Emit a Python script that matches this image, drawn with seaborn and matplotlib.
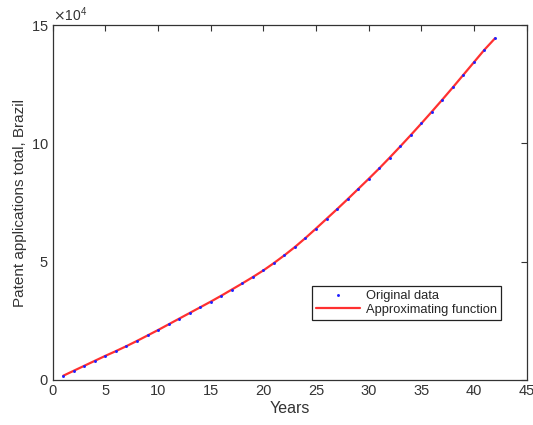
import matplotlib
matplotlib.use('Agg')
import matplotlib.pyplot as plt
import matplotlib.ticker as mticker
import seaborn as sns
import pandas as pd

# years since start and patent applications
years = list(range(1, 43))
patents = [1800, 3900, 6000, 8100, 10200, 12200, 14300, 16500, 18800, 21100,
           23500, 25900, 28300, 30700, 33100, 35600, 38200, 40800, 43500, 46300,
           49400, 52700, 56200, 60000, 64000, 68100, 72200, 76400, 80700, 85000,
           89400, 94000, 98700, 103500, 108400, 113400, 118500, 123700, 129000,
           134300, 139600, 144400]

x_ticks = [0, 5, 10, 15, 20, 25, 30, 35, 40, 45]
y_ticks = [0, 50000, 100000, 150000]

df = pd.DataFrame({'Years': years, 'Patents': patents})

sns.set_style('white')
plt.rcParams['font.family'] = ['Liberation Sans', 'DejaVu Sans']

fig = plt.figure(figsize=(5.33, 4.25), dpi=100)
ax = fig.add_axes([0.099, 0.106, 0.889, 0.835])

sns.lineplot(data=df, x='Years', y='Patents', ax=ax, color='#ff3030', linewidth=1.6,
             label='Approximating function', zorder=2)
sns.scatterplot(data=df, x='Years', y='Patents', ax=ax, color='#2020ff', marker='.',
                s=18, linewidth=0, label='Original data', zorder=3)

ax.set_xlim(0, 45)
ax.set_ylim(0, 150000)
ax.set_xticks(x_ticks)
ax.set_yticks(y_ticks)

fmt = mticker.ScalarFormatter(useMathText=True)
fmt.set_powerlimits((4, 4))
ax.yaxis.set_major_formatter(fmt)
ax.yaxis.get_offset_text().set_fontsize(10)
ax.yaxis.get_offset_text().set_color('#333333')

ax.tick_params(direction='in', top=True, right=True, length=4.5, width=0.8,
               labelsize=10.5, colors='#333333', pad=3)
for s in ax.spines.values():
    s.set_visible(True)
    s.set_color('#333333')
    s.set_linewidth(0.9)

ax.set_xlabel('Years', fontsize=11.5, color='#333333', labelpad=2)
ax.set_ylabel('Patent applications total, Brazil', fontsize=11, color='#333333', labelpad=3)

handles, labels = ax.get_legend_handles_labels()
order = [labels.index('Original data'), labels.index('Approximating function')]
leg = ax.legend([handles[i] for i in order], [labels[i] for i in order],
                loc='upper left', bbox_to_anchor=(0.547, 0.265), fancybox=False,
                edgecolor='#222222', framealpha=1, fontsize=9.3, borderaxespad=0,
                handlelength=3.4, labelspacing=0.15, borderpad=0.3, handletextpad=0.5)
leg.get_frame().set_linewidth(0.9)

plt.savefig('out.png', dpi=100)
